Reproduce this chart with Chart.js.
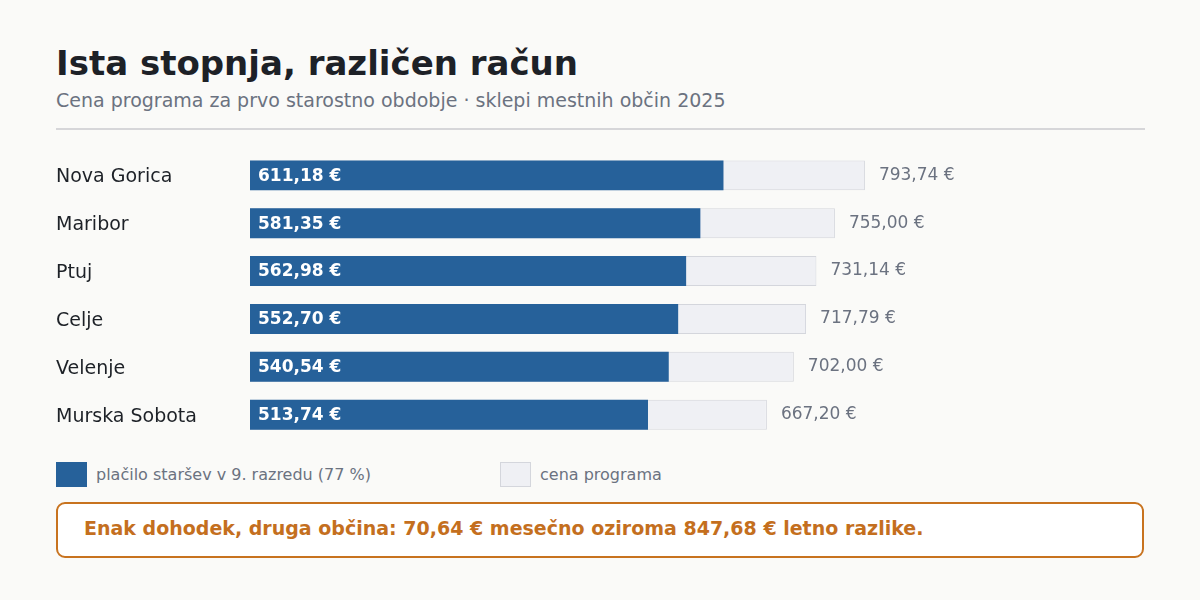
<!DOCTYPE html>
<html>
<head>
<meta charset="utf-8">
<script src="https://cdn.jsdelivr.net/npm/chart.js@4"></script>
<style>
  body { margin:0; background:#fafaf8; font-family:"DejaVu Sans", sans-serif; }
  #wrap { position:relative; width:1200px; height:600px; }
  h1 { position:absolute; left:56px; top:43px; margin:0; font-size:34px; line-height:40px; font-weight:bold; color:#1d2127; }
  .sub { position:absolute; left:56px; top:89px; font-size:19px; line-height:22px; color:#6b7280; }
  .rule { position:absolute; left:56px; top:128px; width:1089px; height:2px; background:#d6d6d9; }
  #box { position:absolute; left:56px; top:140px; width:1088px; height:310px; }
  .leg { position:absolute; top:462px; font-size:16px; line-height:25px; color:#6b7280; }
  .sw { position:absolute; top:462px; width:31px; height:25px; box-sizing:border-box; }
  .note { position:absolute; left:56px; top:502px; width:1088px; height:56px; box-sizing:border-box;
          border:2px solid #c8731f; border-radius:9px; background:#fff;
          padding:13px 0 0 26px; font-size:19px; line-height:22px; font-weight:bold; color:#c46f1e; }
</style>
</head>
<body>
<div id="wrap">
  <h1>Ista stopnja, različen račun</h1>
  <div class="sub">Cena programa za prvo starostno obdobje · sklepi mestnih občin 2025</div>
  <div class="rule"></div>
  <div id="box"><canvas id="chart"></canvas></div>
  <div class="sw" style="left:56px;background:#26619a"></div>
  <div class="leg" style="left:96px">plačilo staršev v 9. razredu (77 %)</div>
  <div class="sw" style="left:500px;background:#eff0f4;border:1px solid #d4d6dc"></div>
  <div class="leg" style="left:540px">cena programa</div>
  <div class="note">Enak dohodek, druga občina: 70,64 € mesečno oziroma 847,68 € letno razlike.</div>
</div>
<script>
var obcine = ['Nova Gorica', 'Maribor', 'Ptuj', 'Celje', 'Velenje', 'Murska Sobota']
var cenaPrograma = [793.74, 755.00, 731.14, 717.79, 702.00, 667.20]
var placiloStarsev = [611.18, 581.35, 562.98, 552.70, 540.54, 513.74]
var xMax = 1154

function eur(v) {
    return v.toFixed(2).replace('.', ',') + ' €'
}

// value labels: white inside the blue bar, grey after the price bar
var labelPlugin = {
    id: 'labels',
    afterDatasetsDraw(chart) {
        var ctx = chart.ctx
        ctx.save()
        ctx.textBaseline = 'middle'
        chart.getDatasetMeta(1).data.forEach(function (bar, i) {
            ctx.font = '17px "DejaVu Sans"'
            ctx.fillStyle = '#6b7280'
            ctx.fillText(eur(cenaPrograma[i]), bar.x + 14, bar.y)
        })
        chart.getDatasetMeta(0).data.forEach(function (bar, i) {
            ctx.font = 'bold 17px "DejaVu Sans"'
            ctx.fillStyle = '#ffffff'
            ctx.fillText(eur(placiloStarsev[i]), bar.base + 8, bar.y + 1)
        })
        ctx.restore()
    }
}

var ctx = document.getElementById('chart').getContext('2d')
var myChart = new Chart(ctx, {
    type: 'bar',
    data: {
        labels: obcine,
        datasets: [{
            label: 'plačilo staršev v 9. razredu (77 %)',
            data: placiloStarsev,
            backgroundColor: '#26619a',
            borderWidth: 0,
            // drawn on top
            order: 1
        }, {
            label: 'cena programa',
            data: cenaPrograma,
            backgroundColor: '#eff0f4',
            borderColor: '#d4d6dc',
            borderWidth: 1,
            // drawn below
            order: 2
        }]
    },
    options: {
        indexAxis: 'y',
        responsive: true,
        maintainAspectRatio: false,
        animation: false,
        grouped: false,
        barPercentage: 0.625,
        categoryPercentage: 1,
        layout: { padding: { top: 11, bottom: 11, left: 0, right: 0 } },
        plugins: {
            legend: { display: false },
            tooltip: { enabled: false }
        },
        scales: {
            x: {
                display: false,
                min: 0,
                max: xMax
            },
            y: {
                grid: { display: false },
                border: { display: false },
                ticks: {
                    crossAlign: 'far',
                    padding: 0,
                    labelOffset: 2,
                    color: '#1d2127',
                    font: { family: 'DejaVu Sans', size: 19 }
                },
                afterFit: function (axis) { axis.width = 194 }
            }
        }
    },
    plugins: [labelPlugin]
})
</script>
</body>
</html>
